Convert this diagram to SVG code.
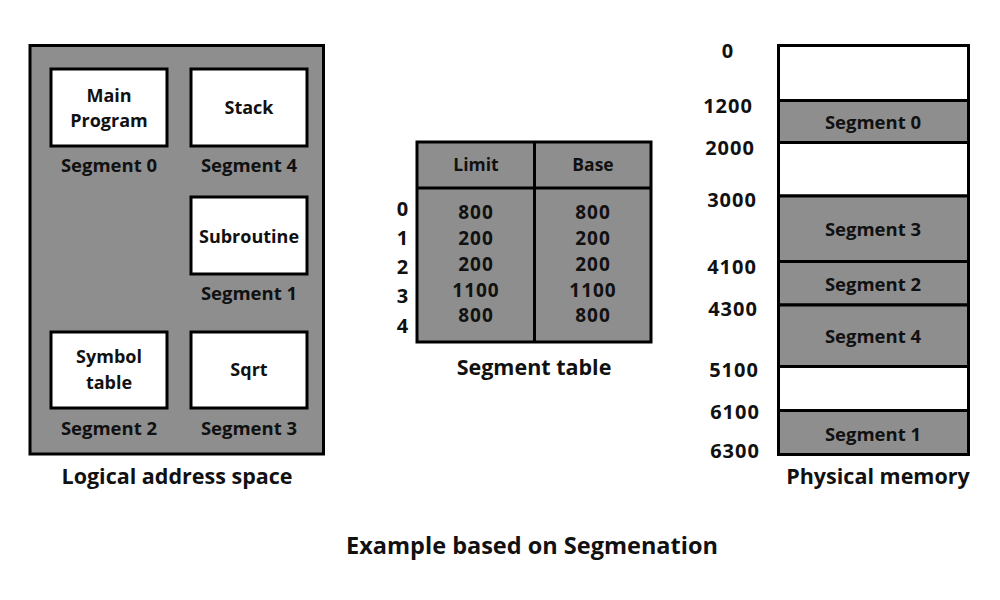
<svg xmlns="http://www.w3.org/2000/svg" width="1000" height="600" viewBox="0 0 1000 600">
<style>
text{font-family:"Open Sans","Liberation Sans",sans-serif;font-weight:bold;fill:#111;text-anchor:middle;dominant-baseline:central}
.cap{font-size:21.5px}
.lbl{font-size:18.5px}
.box{font-size:18px}
.hdr{font-size:17.5px}
.num{font-size:19px;letter-spacing:1px}
.idx{font-size:20px;letter-spacing:1px}
.gray{fill:#8e8e8e;stroke:#000;stroke-width:3}
.white{fill:#fff;stroke:#000;stroke-width:3}
.line{stroke:#000;stroke-width:3;fill:none}
</style>
<rect width="1000" height="600" fill="#fff"/>

<g id="logical">
<rect class="gray" x="30" y="45.5" width="293.5" height="408.5"/>
<g id="seg0-main"><rect class="white" x="51" y="69" width="116" height="77"/>
<text class="box" x="109" y="95">Main</text><text class="box" x="109" y="120">Program</text>
<text class="lbl" x="109" y="164">Segment 0</text></g>
<g id="seg4-stack"><rect class="white" x="191" y="69" width="116" height="77"/>
<text class="box" x="249" y="107">Stack</text>
<text class="lbl" x="249" y="164">Segment 4</text></g>
<g id="seg1-sub"><rect class="white" x="191" y="197" width="116" height="77"/>
<text class="box" x="249" y="236">Subroutine</text>
<text class="lbl" x="249" y="292">Segment 1</text></g>
<g id="seg2-sym"><rect class="white" x="51" y="332" width="116" height="76"/>
<text class="box" x="109" y="356">Symbol</text><text class="box" x="109" y="382">table</text>
<text class="lbl" x="109" y="427">Segment 2</text></g>
<g id="seg3-sqrt"><rect class="white" x="191" y="332" width="116" height="76"/>
<text class="box" x="249" y="369">Sqrt</text>
<text class="lbl" x="249" y="427">Segment 3</text></g>
<text class="cap" x="177" y="475">Logical address space</text>
</g>

<g id="segment-table">
<rect class="gray" x="417" y="142" width="234" height="200"/>
<line class="line" x1="417" y1="188" x2="651" y2="188"/>
<line class="line" x1="534.5" y1="142" x2="534.5" y2="342"/>
<text class="hdr" x="476" y="164">Limit</text>
<text class="hdr" x="593" y="164">Base</text>
<text class="num" x="476" y="212">800</text><text class="num" x="593" y="212">800</text>
<text class="num" x="476" y="238">200</text><text class="num" x="593" y="238">200</text>
<text class="num" x="476" y="264">200</text><text class="num" x="593" y="264">200</text>
<text class="num" x="476" y="290">1100</text><text class="num" x="593" y="290">1100</text>
<text class="num" x="476" y="315">800</text><text class="num" x="593" y="315">800</text>
<text class="idx" x="403" y="208">0</text>
<text class="idx" x="403" y="237">1</text>
<text class="idx" x="403" y="266">2</text>
<text class="idx" x="403" y="295">3</text>
<text class="idx" x="403" y="325">4</text>
<text class="cap" x="534" y="366">Segment table</text>
</g>

<g id="physical">
<rect class="white" x="778.5" y="45.5" width="190" height="55"/>
<rect class="gray" x="778.5" y="100.5" width="190" height="42"/>
<rect class="white" x="778.5" y="142.5" width="190" height="53.5"/>
<rect class="gray" x="778.5" y="196" width="190" height="65.5"/>
<rect class="gray" x="778.5" y="261.5" width="190" height="43.5"/>
<rect class="gray" x="778.5" y="305" width="190" height="61.5"/>
<rect class="white" x="778.5" y="366.5" width="190" height="44"/>
<rect class="gray" x="778.5" y="410.5" width="190" height="44"/>
<text class="lbl" x="873" y="121">Segment 0</text>
<text class="lbl" x="873" y="228">Segment 3</text>
<text class="lbl" x="873" y="283">Segment 2</text>
<text class="lbl" x="873" y="335">Segment 4</text>
<text class="lbl" x="873" y="433">Segment 1</text>
<text class="idx" x="728" y="50">0</text>
<text class="idx" x="728" y="105">1200</text>
<text class="idx" x="730" y="147">2000</text>
<text class="idx" x="732" y="199">3000</text>
<text class="idx" x="732" y="266">4100</text>
<text class="idx" x="733" y="308">4300</text>
<text class="idx" x="734" y="369">5100</text>
<text class="idx" x="735" y="411">6100</text>
<text class="idx" x="735" y="450">6300</text>
<text class="cap" x="878" y="475">Physical memory</text>
</g>

<text x="532" y="545" style="font-size:23.5px">Example based on Segmenation</text>
</svg>
